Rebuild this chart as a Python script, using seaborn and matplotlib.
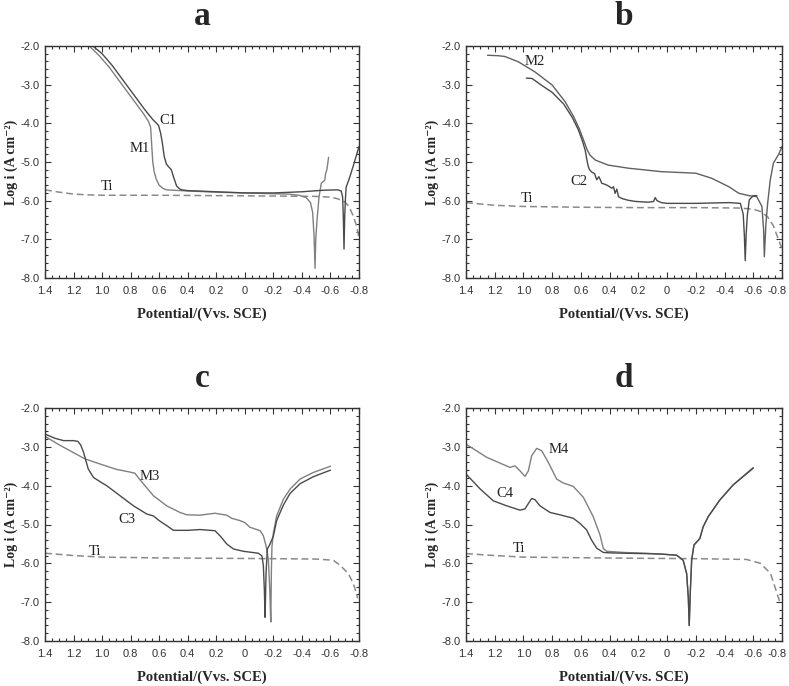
import matplotlib
matplotlib.use('Agg')
import matplotlib.pyplot as plt
import seaborn as sns
from matplotlib.ticker import MultipleLocator, FuncFormatter
from matplotlib.transforms import ScaledTranslation

sns.set_style('ticks')
plt.rcParams['font.family'] = ['Liberation Sans', 'DejaVu Sans']

# panel a
ti_a_x = [1.4, 1.3, 1.2, 1.1, 1.0, 0.6, 0.2, -0.2, -0.5, -0.6, -0.65, -0.7, -0.73, -0.76, -0.78, -0.8]
ti_a_y = [-5.72, -5.78, -5.83, -5.85, -5.86, -5.86, -5.87, -5.88, -5.89, -5.91, -5.95, -6.03, -6.15, -6.4, -6.62, -6.95]
m1_x = [1.09, 1.02, 0.95, 0.88, 0.82, 0.76, 0.71, 0.675, 0.66, 0.655, 0.65, 0.645, 0.635, 0.62, 0.60, 0.575,
        0.55, 0.50, 0.40, 0.20, 0.0, -0.20, -0.30, -0.38, -0.43, -0.46, -0.475, -0.485, -0.492, -0.497,
        -0.506, -0.52, -0.536, -0.56, -0.566, -0.575, -0.587]
m1_y = [-2.0, -2.25, -2.55, -2.9, -3.2, -3.5, -3.75, -3.95, -4.1, -4.4, -4.7, -5.0, -5.25, -5.45, -5.6, -5.68,
        -5.72, -5.73, -5.75, -5.78, -5.8, -5.82, -5.83, -5.86, -5.92, -6.05, -6.3, -6.9, -7.75, -7.0,
        -6.5, -5.9, -5.55, -5.47, -5.3, -5.2, -4.88]
c1_x = [1.065, 1.0, 0.93, 0.87, 0.82, 0.76, 0.70, 0.645, 0.605, 0.59, 0.578, 0.565, 0.55, 0.535, 0.515, 0.50,
        0.478, 0.455, 0.44, 0.40, 0.20, 0.0, -0.20, -0.40, -0.55, -0.65, -0.675, -0.685, -0.69, -0.695,
        -0.70, -0.705, -0.71, -0.73, -0.76, -0.80]
c1_y = [-2.0, -2.2, -2.5, -2.8, -3.05, -3.35, -3.65, -3.9, -4.05, -4.25, -4.5, -4.85, -5.05, -5.12, -5.2, -5.38,
        -5.62, -5.7, -5.72, -5.74, -5.77, -5.8, -5.8, -5.77, -5.73, -5.72, -5.75, -5.9, -6.4, -7.25,
        -6.4, -5.95, -5.65, -5.45, -5.1, -4.6]

# panel b
ti_b_x = [1.4, 1.2, 1.0, 0.6, 0.2, -0.2, -0.5, -0.6, -0.65, -0.7, -0.74, -0.77, -0.8]
ti_b_y = [-6.05, -6.12, -6.15, -6.17, -6.18, -6.18, -6.19, -6.22, -6.28, -6.42, -6.65, -6.95, -7.25]
m2_x = [1.25, 1.18, 1.13, 1.035, 0.92, 0.80, 0.71, 0.65, 0.61, 0.58, 0.555, 0.535, 0.50, 0.41, 0.27, 0.04,
        -0.20, -0.31, -0.43, -0.50, -0.57, -0.625, -0.66, -0.672, -0.677, -0.688, -0.70, -0.718, -0.74,
        -0.777, -0.80]
m2_y = [-2.24, -2.25, -2.27, -2.41, -2.67, -3.01, -3.44, -3.83, -4.15, -4.45, -4.7, -4.83, -4.95, -5.08, -5.16,
        -5.25, -5.29, -5.42, -5.64, -5.81, -5.87, -5.9, -6.15, -6.75, -7.45, -6.6, -6.07, -5.47, -5.03,
        -4.8, -4.6]
c2_x = [0.98, 0.94, 0.88, 0.80, 0.72, 0.66, 0.62, 0.59, 0.57, 0.558, 0.55, 0.54, 0.525, 0.505, 0.49, 0.475,
        0.466, 0.455, 0.43, 0.408, 0.385, 0.373, 0.362, 0.35, 0.338, 0.31, 0.27, 0.22, 0.13, 0.094,
        0.083, 0.07, 0.04, 0.0, -0.20, -0.43, -0.51, -0.53, -0.538, -0.544, -0.55, -0.558, -0.572, -0.60, -0.625]
c2_y = [-2.83, -2.84, -3.0, -3.2, -3.5, -3.85, -4.15, -4.45, -4.7, -4.95, -5.1, -5.2, -5.26, -5.3, -5.46, -5.38,
        -5.45, -5.55, -5.58, -5.62, -5.68, -5.64, -5.81, -5.7, -5.9, -5.95, -5.99, -6.02, -6.04, -6.02,
        -5.92, -6.0, -6.05, -6.07, -6.07, -6.05, -6.07, -6.35, -6.9, -7.55, -6.9, -6.4, -5.98, -5.87, -5.87]

# panel c
ti_c_x = [1.4, 1.2, 1.0, 0.6, 0.2, -0.2, -0.5, -0.62, -0.667, -0.725, -0.76, -0.78, -0.79]
ti_c_y = [-5.74, -5.8, -5.84, -5.86, -5.87, -5.88, -5.89, -5.92, -6.05, -6.26, -6.52, -6.75, -6.9]
m3_x = [1.4, 1.3, 1.2, 1.12, 1.0, 0.9, 0.804, 0.77, 0.734, 0.64, 0.547, 0.454, 0.407, 0.314, 0.209, 0.127,
        0.092, 0.034, 0.0, -0.035, -0.107, -0.13, -0.15, -0.165, -0.175, -0.182, -0.186, -0.19, -0.2,
        -0.223, -0.27, -0.317, -0.387, -0.48, -0.6]
m3_y = [-2.73, -2.95, -3.15, -3.31, -3.46, -3.58, -3.65, -3.68, -3.85, -4.26, -4.52, -4.69, -4.75, -4.76,
        -4.71, -4.76, -4.84, -4.9, -4.95, -5.07, -5.16, -5.29, -5.57, -5.9, -6.7, -7.51, -6.23, -5.57,
        -5.22, -4.78, -4.35, -4.09, -3.83, -3.66, -3.5]
c3_x = [1.4, 1.33, 1.27, 1.2, 1.17, 1.15, 1.13, 1.097, 1.06, 1.0, 0.968, 0.874, 0.78, 0.687, 0.64, 0.6,
        0.547, 0.5, 0.4, 0.314, 0.209, 0.174, 0.127, 0.08, 0.01, -0.095, -0.12, -0.13, -0.137, -0.142,
        -0.149, -0.158, -0.177, -0.2, -0.223, -0.27, -0.317, -0.387, -0.48, -0.6]
c3_y = [-2.67, -2.78, -2.84, -2.84, -2.86, -2.95, -3.14, -3.57, -3.79, -3.93, -4.0, -4.26, -4.52, -4.73,
        -4.78, -4.9, -5.03, -5.15, -5.15, -5.13, -5.16, -5.29, -5.5, -5.63, -5.69, -5.74, -5.81, -6.06,
        -6.7, -7.39, -6.23, -5.63, -5.5, -5.3, -4.9, -4.5, -4.2, -3.95, -3.77, -3.6]

# panel d
ti_d_x = [1.4, 1.2, 1.0, 0.746, 0.2, -0.2, -0.553, -0.65, -0.72, -0.766, -0.785]
ti_d_y = [-5.75, -5.8, -5.84, -5.85, -5.87, -5.88, -5.9, -6.0, -6.26, -6.78, -7.0]
m4_x = [1.4, 1.256, 1.094, 1.059, 1.024, 0.989, 0.966, 0.943, 0.908, 0.873, 0.827, 0.769, 0.723, 0.653,
        0.583, 0.514, 0.467, 0.444, 0.42, 0.3, 0.15, 0.05, -0.066, -0.112, -0.136, -0.148, -0.154, -0.162,
        -0.171, -0.187, -0.228, -0.251, -0.286, -0.367, -0.46, -0.6]
m4_y = [-2.93, -3.27, -3.53, -3.49, -3.62, -3.76, -3.62, -3.23, -3.04, -3.1, -3.4, -3.83, -3.93, -4.02,
        -4.3, -4.8, -5.27, -5.62, -5.69, -5.72, -5.74, -5.76, -5.79, -5.92, -6.26, -6.9, -7.6, -6.7,
        -5.92, -5.53, -5.36, -5.06, -4.8, -4.37, -3.98, -3.53]
c4_x = [1.4, 1.3, 1.21, 1.116, 1.024, 0.99, 0.943, 0.92, 0.885, 0.815, 0.746, 0.653, 0.607, 0.56, 0.526,
        0.49, 0.444, 0.4, 0.3, 0.15, 0.05, -0.066, -0.112, -0.136, -0.148, -0.154, -0.162, -0.171, -0.187,
        -0.228, -0.251, -0.286, -0.367, -0.46, -0.6]
c4_y = [-3.7, -4.09, -4.39, -4.52, -4.63, -4.6, -4.33, -4.36, -4.52, -4.69, -4.75, -4.84, -4.97, -5.14,
        -5.4, -5.61, -5.72, -5.73, -5.74, -5.75, -5.76, -5.79, -5.92, -6.26, -6.9, -7.6, -6.7, -5.92,
        -5.53, -5.36, -5.06, -4.8, -4.37, -3.98, -3.55]

panel_letters = ['a', 'b', 'c', 'd']
curve_labels = [
    [('C1', 0.537, -3.92), ('M1', 0.735, -4.65), ('Ti', 0.968, -5.64)],
    [('M2', 0.92, -2.41), ('C2', 0.617, -5.51), ('Ti', 0.977, -5.94)],
    [('M3', 0.665, -3.76), ('C3', 0.828, -4.87), ('Ti', 1.05, -5.70)],
    [('M4', 0.753, -3.08), ('C4', 1.127, -4.2), ('Ti', 1.033, -5.63)],
]

serif = ['Liberation Serif', 'DejaVu Serif']
dark = '#4a4a4a'
light = '#808080'

fig = plt.figure(figsize=(7.89, 6.86), dpi=100)
W, H = 789, 686
boxes = [(45, 46, 359, 278), (466, 46, 782, 278), (45, 408, 359, 641), (466, 408, 782, 641)]
axes = []
for (x0, y0, x1, y1) in boxes:
    axes.append(fig.add_axes([x0 / W, 1 - y1 / H, (x1 - x0) / W, (y1 - y0) / H]))

data = [
    [(ti_a_x, ti_a_y, 'ti'), (m1_x, m1_y, light), (c1_x, c1_y, dark)],
    [(ti_b_x, ti_b_y, 'ti'), (m2_x, m2_y, '#606060'), (c2_x, c2_y, dark)],
    [(ti_c_x, ti_c_y, 'ti'), (m3_x, m3_y, light), (c3_x, c3_y, dark)],
    [(ti_d_x, ti_d_y, 'ti'), (m4_x, m4_y, light), (c4_x, c4_y, dark)],
]

for i, ax in enumerate(axes):
    for xs, ys, col in data[i]:
        if col == 'ti':
            sns.lineplot(x=xs, y=ys, sort=False, estimator=None, ax=ax, color='#8a8a8a',
                         lw=1.1, linestyle=(0, (4.5, 2.5)))
        else:
            sns.lineplot(x=xs, y=ys, sort=False, estimator=None, ax=ax, color=col, lw=1.0)
    for txt, tx, ty in curve_labels[i]:
        ax.text(tx, ty, txt, family=serif, fontsize=10.5, ha='center', va='center', color='#222222')

    ax.set_xlim(1.4, -0.8)
    ax.set_ylim(-8.0, -2.0)
    ax.set_xticks([1.4, 1.2, 1.0, 0.8, 0.6, 0.4, 0.2, 0, -0.2, -0.4, -0.6, -0.8])
    ax.set_yticks([-8, -7, -6, -5, -4, -3, -2])
    ax.xaxis.set_minor_locator(MultipleLocator(0.05))
    ax.yaxis.set_minor_locator(MultipleLocator(0.2))
    ax.xaxis.set_major_formatter(FuncFormatter(lambda v, p: '0' if abs(v) < 1e-9 else f'{v:.1f}'))
    ax.yaxis.set_major_formatter(FuncFormatter(lambda v, p: f'{v:.1f}'))
    ax.tick_params(which='both', direction='in', top=True, right=True, colors='#333333',
                   labelsize=8, width=0.8)
    ax.tick_params(axis='x', which='major', length=4, pad=6)
    ax.tick_params(axis='y', which='major', length=4, pad=4)
    ax.tick_params(which='minor', length=2)
    for s in ax.spines.values():
        s.set_color('#333333')
        s.set_linewidth(1.0)
    ax.set_xlabel('Potential/(Vvs. SCE)', family=serif, fontweight='bold', fontsize=10.5, labelpad=8)
    ax.set_ylabel('Log i (A cm\u207b\u00b2)', family=serif, fontweight='bold', fontsize=10, labelpad=2)

    # keep the last tick label of the right-hand panels inside the canvas
    if i in (1, 3):
        last = ax.xaxis.get_major_ticks()[-1].label1
        last.set_transform(last.get_transform() + ScaledTranslation(-5 / 100, 0, fig.dpi_scale_trans))

    x0, y0, x1, y1 = boxes[i]
    fig.text((x0 + x1) / 2 / W, 1 - (y0 - 21) / H, panel_letters[i], family=serif,
             fontweight='bold', fontsize=24, ha='center', va='baseline')

fig.savefig('out.png', dpi=100)
